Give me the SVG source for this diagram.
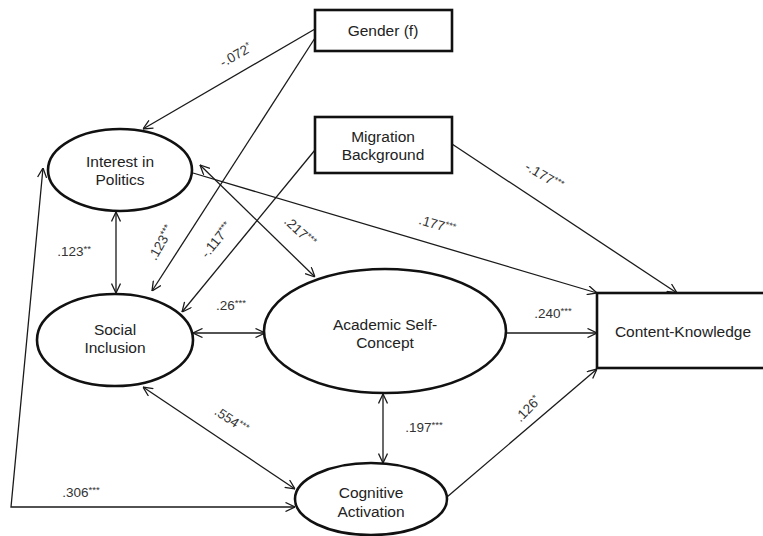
<svg xmlns="http://www.w3.org/2000/svg" width="763" height="536" viewBox="0 0 763 536">
<defs>
<style>
.node{fill:#fff;stroke:#111;stroke-width:2.6}
.t{font-family:"Liberation Sans",Arial,sans-serif;font-size:15.5px;fill:#222;text-anchor:middle}
.c{fill:none;stroke:#1a1a1a;stroke-width:1.3}
.l{font-family:"Liberation Sans",Arial,sans-serif;font-size:13.5px;fill:#333;text-anchor:middle}
.s{font-size:9.5px}
</style>
<marker id="a" viewBox="0 0 10 10" refX="10" refY="5" markerWidth="10" markerHeight="10" markerUnits="userSpaceOnUse" orient="auto-start-reverse">
<path d="M0.5,0.5 L10,5 L0.5,9.5" fill="none" stroke="#1a1a1a" stroke-width="1.3"/>
</marker>
</defs>
<rect width="763" height="536" fill="#fff"/>
<g id="connectors">
<line class="c" x1="315" y1="29" x2="143" y2="129" marker-end="url(#a)"/>
<line class="c" x1="315" y1="38" x2="152" y2="291" marker-end="url(#a)"/>
<line class="c" x1="315" y1="150" x2="182" y2="312" marker-end="url(#a)"/>
<line class="c" x1="200" y1="165" x2="315" y2="277" marker-start="url(#a)" marker-end="url(#a)"/>
<line class="c" x1="193" y1="173" x2="597" y2="293" marker-end="url(#a)"/>
<line class="c" x1="452" y1="144" x2="677" y2="293" marker-end="url(#a)"/>
<line class="c" x1="116" y1="212" x2="116" y2="293" marker-start="url(#a)" marker-end="url(#a)"/>
<line class="c" x1="193" y1="333" x2="265" y2="333" marker-start="url(#a)" marker-end="url(#a)"/>
<line class="c" x1="143" y1="387" x2="295" y2="489" marker-start="url(#a)" marker-end="url(#a)"/>
<line class="c" x1="383" y1="394" x2="383" y2="463" marker-start="url(#a)" marker-end="url(#a)"/>
<line class="c" x1="506" y1="333" x2="597" y2="333" marker-end="url(#a)"/>
<line class="c" x1="447" y1="497" x2="597" y2="369" marker-end="url(#a)"/>
<polyline class="c" points="43,168 11,507 295,507" marker-start="url(#a)" marker-end="url(#a)"/>
<text class="l" transform="translate(238,59) rotate(-30)">-.072<tspan class="s" dy="-4">*</tspan></text>
<text class="l" transform="translate(165,245) rotate(-60)">.123<tspan class="s" dy="-4">***</tspan></text>
<text class="l" transform="translate(220,243) rotate(-51)">-.117<tspan class="s" dy="-4">***</tspan></text>
<text class="l" transform="translate(297,235) rotate(43)">.217<tspan class="s" dy="-4">***</tspan></text>
<text class="l" transform="translate(436,229) rotate(16)">.177<tspan class="s" dy="-4">***</tspan></text>
<text class="l" transform="translate(542,180) rotate(31)">-.177<tspan class="s" dy="-4">***</tspan></text>
<text class="l" transform="translate(229,424) rotate(34)">.554<tspan class="s" dy="-4">***</tspan></text>
<text class="l" transform="translate(531,412) rotate(-46)">.126<tspan class="s" dy="-4">*</tspan></text>
<text class="l" x="74" y="256">.123<tspan class="s" dy="-4">**</tspan></text>
<text class="l" x="231" y="310">.26<tspan class="s" dy="-4">***</tspan></text>
<text class="l" x="424" y="432">.197<tspan class="s" dy="-4">***</tspan></text>
<text class="l" x="553" y="318">.240<tspan class="s" dy="-4">***</tspan></text>
<text class="l" x="81" y="497">.306<tspan class="s" dy="-4">***</tspan></text>
</g>
<g id="gender">
<rect class="node" x="315" y="10" width="137" height="41"/>
<text class="t" x="383" y="36">Gender (f)</text>
</g>
<g id="migration">
<rect class="node" x="315" y="117" width="137" height="56"/>
<text class="t" x="383" y="142">Migration</text>
<text class="t" x="383" y="160">Background</text>
</g>
<g id="interest">
<ellipse class="node" cx="120" cy="170" rx="72" ry="41"/>
<text class="t" x="120" y="167">Interest in</text>
<text class="t" x="120" y="185">Politics</text>
</g>
<g id="social">
<ellipse class="node" cx="115" cy="340" rx="78" ry="46"/>
<text class="t" x="115" y="335">Social</text>
<text class="t" x="115" y="353">Inclusion</text>
</g>
<g id="academic">
<ellipse class="node" cx="385" cy="331" rx="121" ry="62"/>
<text class="t" x="385" y="330">Academic Self-</text>
<text class="t" x="385" y="348">Concept</text>
</g>
<g id="cognitive">
<ellipse class="node" cx="371" cy="499" rx="76" ry="36"/>
<text class="t" x="371" y="498">Cognitive</text>
<text class="t" x="371" y="517">Activation</text>
</g>
<g id="content">
<rect class="node" x="597" y="293" width="180" height="75"/>
<text class="t" x="683" y="337">Content-Knowledge</text>
</g>
</svg>
